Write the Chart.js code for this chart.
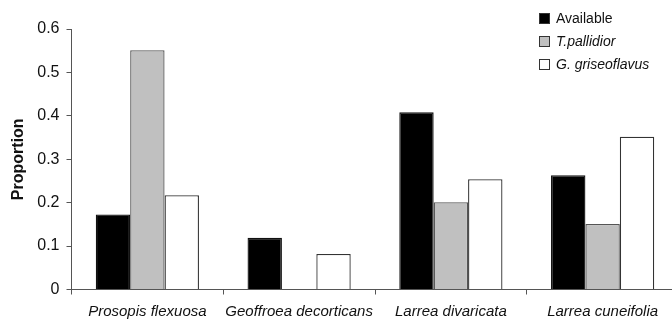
<!DOCTYPE html>
<html>
<head>
<meta charset="utf-8">
<script src="https://cdn.jsdelivr.net/npm/chart.js@4.4.0/dist/chart.umd.min.js"></script>
<style>
  html, body { margin: 0; padding: 0; background: #fff; overflow: hidden; }
  #wrap { position: relative; width: 690px; height: 320px; }
  #legend { position: absolute; left: 539px; top: 10px; font-family: Arial, "Liberation Sans", sans-serif; font-size: 14px; color: #111; }
  #legend div { height: 23px; line-height: 16px; white-space: nowrap; }
  #legend span.box { display: inline-block; width: 9px; height: 9px; border: 1px solid #333; margin-right: 6px; vertical-align: -1px; }
</style>
</head>
<body>
<div id="wrap">
  <canvas id="grafico" width="690" height="320"></canvas>
  <div id="legend"></div>
</div>
<script>
const categorias = ["Prosopis flexuosa", "Geoffroea decorticans", "Larrea divaricata", "Larrea cuneifolia"];
const series = ["Available", "T.pallidior", "G. griseoflavus"];
const available = [0.173, 0.119, 0.408, 0.263];
const pallidior = [0.551, 0, 0.201, 0.151];
const griseoflavus = [0.217, 0.082, 0.254, 0.352];
const yMin = 0, yMax = 0.6, yStep = 0.1;

const rellenos = ["#000000", "#c0c0c0", "#ffffff"];
const bordes = ["#111111", "#555555", "#333333"];
const italica = [false, true, true];
const valores = [available, pallidior, griseoflavus];

const fuente = "Arial, 'Liberation Sans', sans-serif";

const ctx = document.getElementById("grafico").getContext("2d");
new Chart(ctx, {
  type: "bar",
  data: {
    labels: categorias,
    datasets: series.map((nombre, i) => ({
      label: nombre,
      data: valores[i],
      backgroundColor: rellenos[i],
      borderColor: bordes[i],
      borderWidth: 1.3,
      categoryPercentage: 0.68,
      barPercentage: 1.0,
    })),
  },
  options: {
    responsive: false,
    animation: false,
    layout: { padding: { top: 29, right: 11.5, left: 0, bottom: 0 } },
    plugins: { legend: { display: false }, tooltip: { enabled: false } },
    scales: {
      x: {
        offset: true,
        border: { color: "#555", width: 1 },
        grid: { offset: true, drawOnChartArea: false, drawTicks: true, tickLength: 5, color: "#555" },
        ticks: { color: "#111", padding: 8, font: { family: fuente, size: 15, style: "italic" }, maxRotation: 0 },
        afterFit: (scale) => { scale.height = 30.5; },
      },
      y: {
        min: yMin,
        max: yMax,
        border: { color: "#555", width: 1 },
        grid: { drawOnChartArea: false, drawTicks: true, tickLength: 5, color: "#555" },
        ticks: {
          stepSize: yStep,
          color: "#111",
          padding: 7,
          font: { family: fuente, size: 16 },
          callback: (v) => String(+v.toFixed(1)),
        },
        title: {
          display: true,
          text: "Proportion",
          color: "#111",
          padding: { top: 9, bottom: 0 },
          font: { family: fuente, size: 16, weight: "bold" },
        },
        afterFit: (scale) => { scale.width = 71.5; },
      },
    },
  },
});

// leyenda en HTML para poder usar cursiva en los nombres
const leyenda = document.getElementById("legend");
series.forEach((nombre, i) => {
  const fila = document.createElement("div");
  const caja = document.createElement("span");
  caja.className = "box";
  caja.style.background = rellenos[i];
  const texto = document.createElement("span");
  texto.textContent = nombre;
  if (italica[i]) texto.style.fontStyle = "italic";
  fila.appendChild(caja);
  fila.appendChild(texto);
  leyenda.appendChild(fila);
});
</script>
</body>
</html>
